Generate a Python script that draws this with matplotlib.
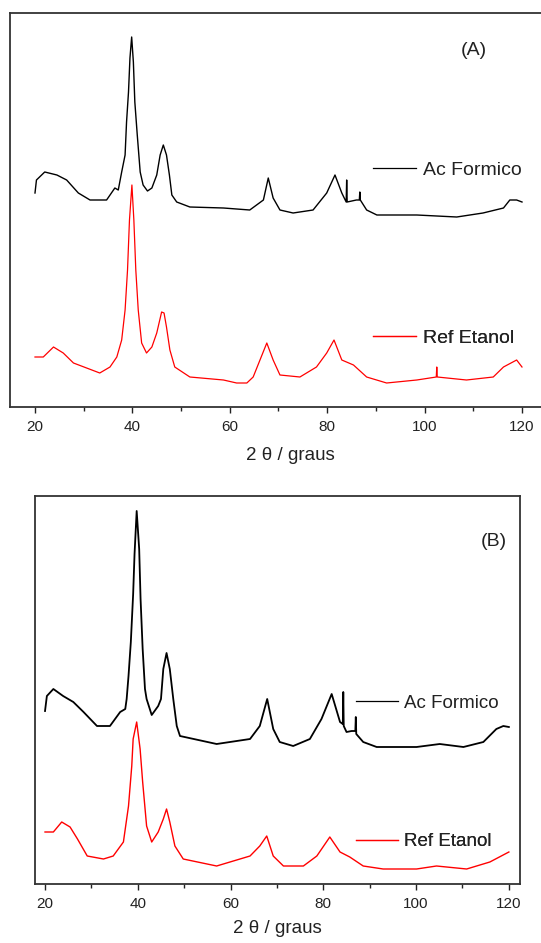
import matplotlib.pyplot as plt
import numpy as np
from matplotlib.ticker import MultipleLocator

plt.rcParams['font.family'] = ['Liberation Sans', 'DejaVu Sans']

# diffractograms, intensity in arbitrary units
# (A)
ang_a_fc = [20, 20.3, 22, 24.5, 26.5, 28.9, 31.3, 34.7, 36.4, 37.1, 37.8, 38.5, 38.8, 39.2, 39.5, 39.85,
            40.2, 40.5, 41.0, 41.6, 42.2, 43.1, 44.0, 45.0, 45.7, 46.35, 47.0, 47.6, 48.1, 49.1, 51.8,
            58.7, 64.1, 66.9, 67.9, 68.9, 70.3, 73.0, 77.1, 79.9, 81.6, 83.0, 83.9, 84.0, 84.1, 86.0,
            86.6, 86.7, 86.8, 88.1, 90.2, 98.4, 106.6, 112.0, 116.2, 117.5, 118.9, 120]
int_a_fc = [214, 227, 235, 232, 227, 214, 207, 207, 219, 217, 235, 252, 285, 315, 349, 370,
            345, 305, 272, 235, 222, 216, 219, 232, 252, 262, 252, 232, 212, 205, 200,
            199, 197, 207, 229, 209, 197, 194, 197, 214, 232, 214, 205, 227, 205, 207,
            207, 215, 207, 197, 192, 192, 190, 194, 199, 207, 207, 205]

ang_a_et = [20, 21.7, 23.8, 25.8, 27.9, 30.6, 33.3, 35.4, 36.8, 37.8, 38.5, 39.0, 39.4, 39.9, 40.3,
            40.7, 41.2, 41.9, 42.9, 44.0, 45.0, 46.0, 46.5, 47.0, 47.7, 48.7, 51.8, 58.7, 61.4, 63.5,
            64.8, 66.2, 67.6, 68.9, 70.3, 74.4, 77.8, 79.9, 81.4, 83.0, 85.4, 88.1, 92.2, 98.4, 102.4,
            102.5, 102.6, 108.6, 114.1, 116.2, 118.9, 120]
int_a_et = [50, 50, 60, 54, 44, 39, 34, 40, 50, 67, 97, 137, 187, 222, 187,
            137, 97, 64, 54, 60, 74, 95, 94, 80, 57, 40, 30, 27, 24, 24,
            30, 47, 64, 47, 32, 30, 40, 54, 67, 47, 42, 30, 24, 27, 30,
            40, 30, 27, 30, 40, 47, 40]

# (B)
ang_b_fc = [20, 20.4, 21.8, 23.9, 26.1, 28.3, 31.2, 34.0, 36.2, 37.3, 37.6, 38.0, 38.5, 39.0, 39.3,
            39.76, 40.3, 40.6, 41.05, 41.55, 41.9, 43.0, 44.4, 45.0, 45.5, 46.2, 46.9, 47.65, 48.4, 49.1,
            57.0, 64.2, 66.3, 67.9, 69.2, 70.6, 73.5, 77.1, 79.6, 81.8, 83.6, 84.2, 84.3, 84.4, 85.0,
            86.1, 86.9, 87.0, 87.1, 88.6, 91.5, 100.1, 105.1, 110.2, 114.5, 117.3, 118.8, 120]
int_b_fc = [173, 188, 195, 188, 182, 172, 158, 158, 172, 175, 185, 208, 242, 290, 330,
            373, 335, 285, 235, 195, 185, 169, 178, 185, 215, 231, 215, 185, 158, 148,
            140, 145, 158, 185, 155, 142, 138, 145, 165, 190, 162, 160, 192, 158, 152,
            153, 153, 167, 150, 142, 137, 137, 140, 137, 142, 155, 158, 157]

ang_b_et = [20, 21.8, 23.6, 25.4, 27.0, 29.1, 32.6, 34.7, 36.9, 38.0, 38.7, 39.0, 39.76, 40.5, 41.05,
            41.9, 43.0, 44.4, 45.5, 46.2, 46.9, 48.0, 49.8, 57.0, 64.2, 66.3, 67.8, 69.2, 71.4, 75.7,
            78.6, 81.4, 83.6, 85.7, 88.6, 92.9, 100.1, 104.4, 110.9, 115.9, 120]
int_b_et = [52, 52, 62, 57, 45, 28, 25, 28, 42, 78, 118, 145, 162, 135, 102,
            58, 42, 52, 65, 75, 62, 38, 25, 18, 28, 38, 48, 28, 18, 18,
            28, 47, 32, 27, 18, 15, 15, 18, 15, 22, 32]

W, H = 541, 943
fig = plt.figure(figsize=(W / 100, H / 100), dpi=100)


def style(ax, xlim, ylim, lpad):
    ax.set_xlim(*xlim)
    ax.set_ylim(*ylim)
    ax.set_yticks([])
    ax.xaxis.set_major_locator(MultipleLocator(20))
    ax.xaxis.set_minor_locator(MultipleLocator(10))
    ax.tick_params(axis='x', which='major', direction='out', length=4, width=1,
                   labelsize=11, pad=5.5, colors='#222222')
    ax.tick_params(axis='x', which='minor', direction='out', length=3, width=1, colors='#222222')
    for s in ax.spines.values():
        s.set_linewidth(1.3)
        s.set_color('#333333')
    ax.set_xlabel('2 θ / graus', fontsize=13.5, labelpad=lpad, color='#222222')


def legends(ax, lb, lr, xa, yb, yr, fs, hl, tp):
    for ln, lab, yy in [(lb, 'Ac Formico', yb), (lr, 'Ref Etanol', yr)]:
        leg = ax.legend([ln], [lab], loc='center left', bbox_to_anchor=(xa, yy),
                        frameon=False, fontsize=fs, handlelength=hl, handletextpad=tp,
                        borderpad=0, borderaxespad=0)
        for t in leg.get_texts():
            t.set_color('#222222')
        for h in leg.get_lines():
            h.set_linewidth(0.9)
        ax.add_artist(leg)


# panel A (right side of frame runs past the figure edge)
ax1 = fig.add_axes([10.4 / W, (H - 407) / H, 560 / W, 394 / H])
l1, = ax1.plot(ang_a_fc, int_a_fc, color='black', lw=1.0)
l2, = ax1.plot(ang_a_et, int_a_et, color='red', lw=0.9)
style(ax1, (14.95, 129.94), (0, 394), 9)
legends(ax1, l1, l2, 0.6475, 0.6015, 0.175, 14, 2.2, 0.36)
ax1.text(0.827, 0.906, '(A)', transform=ax1.transAxes, ha='center', va='center',
         fontsize=14, color='#222222')

# panel B
ax2 = fig.add_axes([35 / W, (H - 884) / H, 485 / W, 388 / H])
l3, = ax2.plot(ang_b_fc, int_b_fc, color='black', lw=1.3)
l4, = ax2.plot(ang_b_et, int_b_et, color='red', lw=1.0)
style(ax2, (17.84, 122.4), (0, 388), 6)
legends(ax2, l3, l4, 0.662, 0.4665, 0.109, 13.5, 2.24, 0.32)
ax2.text(0.945, 0.884, '(B)', transform=ax2.transAxes, ha='center', va='center',
         fontsize=14, color='#222222')

fig.savefig('out.png', dpi=100)
